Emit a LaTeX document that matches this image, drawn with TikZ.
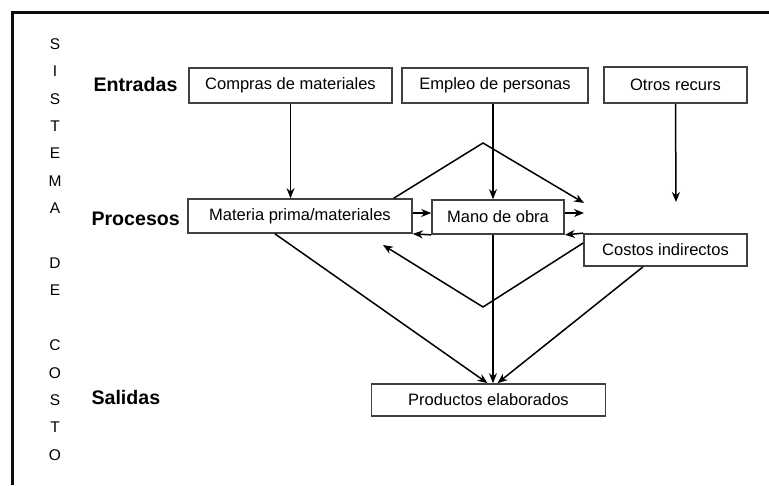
\documentclass[tikz,border=0pt]{standalone}
\usepackage{fontspec}
\setmainfont{Liberation Sans}
\usetikzlibrary{arrows.meta, positioning}
\definecolor{boxGray}{gray}{0.25}
\definecolor{frameBlack}{gray}{0.05}

\begin{document}
\begin{tikzpicture}[x=1pt, y=-1pt, >={Stealth[length=10pt, width=8pt]},
    box/.style={draw=boxGray, line width=1.7pt, fill=white, inner sep=0pt, font=\fontsize{16.5}{18}\selectfont},
    level/.style={anchor=west, font=\fontsize{19.6}{22}\selectfont\bfseries},
    letter/.style={font=\fontsize{15.5}{17}\selectfont},
    arr/.style={->, line width=1.5pt}]
    \useasboundingbox (0,0) rectangle (769,485);

    % Frame
    \draw[line width=3pt, frameBlack] (12,485) -- (12,12) -- (769,12);

    % Vertical title
    \foreach \ch/\k in {S/0, I/1, S/2, T/3, E/4, M/5, A/6, D/8, E/9, C/11, O/12, S/13, T/14, O/15}
        \node[letter] (t\k) at (55, 44+27.4*\k) {\ch};

    % Levels
    \node[level] (entradas) at (90, 84) {Entradas};
    \node[level] (procesos) at (88, 219) {Procesos};
    \node[level] (salidas) at (88, 397) {Salidas};

    % Boxes
    \node[box, minimum width=203pt, minimum height=35pt] (compras) at (290.5, 85.5) {Compras de materiales};
    \node[box, minimum width=186pt, minimum height=35pt] (empleo) at (495, 85.5) {Empleo de personas};
    \node[box, minimum width=143pt, minimum height=36pt] (otros) at (675.5, 85) {Otros recurs};
    \node[box, minimum width=224pt, minimum height=34pt] (materia) at (300, 216) {Materia prima/materiales};
    \node[box, minimum width=132pt, minimum height=34pt] (mano) at (498, 217) {Mano de obra};
    \node[box, minimum width=163pt, minimum height=32pt] (costos) at (665.5, 250) {Costos indirectos};
    \node[box, minimum width=234pt, minimum height=32pt] (productos) at (488.5, 400) {Productos elaborados};

    \coordinate (apex) at (483, 143);
    \coordinate (vbot) at (483, 307);
    \coordinate (otrosEnd) at (676, 202);
    \coordinate (apexEnd) at (584, 203);
    \coordinate (manoEnd) at (584, 213);
    \coordinate (vEnd) at (383, 245);

    % Inputs
    \draw[arr] (compras.south) -- (compras.south |- materia.north);
    \draw[arr] ([xshift=-2pt]empleo.south) -- ([xshift=-2pt]empleo.south |- mano.north);
    \draw[arr] (otros.south) -- (otrosEnd);

    % Processes
    \draw[arr] ([xshift=-19pt]materia.north east) -- (apex) -- (apexEnd);
    \draw[arr] (materia.east |- 0,213) -- (mano.west |- 0,213);
    \draw[arr] (mano.east |- 0,213) -- (manoEnd);
    \draw[arr] (costos.north west) -- (mano.south east);
    \draw[arr] (mano.south west) -- (materia.south east);
    \draw[arr] (costos.west |- 0,243) -- (vbot) -- (vEnd);

    % Outputs
    \draw[arr] ([xshift=-25pt]materia.south) -- ([xshift=-1pt]productos.north);
    \draw[arr] ([xshift=-5pt]mano.south) -- ([xshift=4.5pt]productos.north);
    \draw[arr] ([xshift=-22.5pt]costos.south) -- ([xshift=9pt]productos.north);
\end{tikzpicture}
\end{document}
